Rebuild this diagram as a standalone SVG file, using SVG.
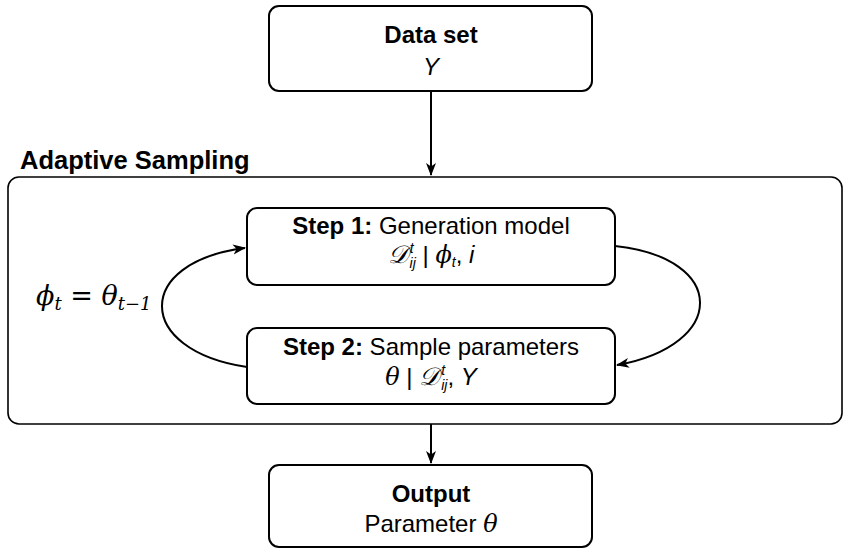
<svg xmlns="http://www.w3.org/2000/svg" width="850" height="550" viewBox="0 0 850 550">
  <defs>
    <style>
      .box { fill: #ffffff; stroke: #000000; stroke-width: 2; }
      .outer { fill: none; stroke: #000000; stroke-width: 1.6; }
      .edge { fill: none; stroke: #000000; stroke-width: 2; }
      .t { font-family: "Liberation Sans", Arial, sans-serif; font-size: 24px; fill: #000; text-anchor: middle; }
      .b { font-weight: bold; }
      .it { font-style: italic; }
      .gr { font-family: "DejaVu Serif", "Liberation Serif", serif; font-style: italic; }
      .cal { font-family: "DejaVu Serif", "Noto Sans", serif; font-style: italic; font-size: 25px; }
      .sm { font-size: 14px; }
    </style>
    <marker id="arr" markerWidth="14" markerHeight="12" refX="12" refY="5" orient="auto" markerUnits="userSpaceOnUse" viewBox="0 0 14 10">
      <path d="M0,0 L13,5 L0,10 L3.5,5 Z" fill="#000"/>
    </marker>
  </defs>

  <g id="connectors">
    <line class="edge" x1="431" y1="91" x2="431" y2="175" marker-end="url(#arr)"/>
    <line class="edge" x1="431" y1="424" x2="431" y2="463" marker-end="url(#arr)"/>
    <path class="edge" d="M615,246 C728,258 728,345 617,365" marker-end="url(#arr)"/>
    <path class="edge" d="M247,367 C134,350 134,262 245,248" marker-end="url(#arr)"/>
  </g>

  <g id="adaptive-sampling">
    <rect class="outer" x="8" y="177" width="834" height="247" rx="11"/>
    <text class="t b" x="20" y="169" style="text-anchor:start;font-size:25.5px">Adaptive Sampling</text>
  </g>

  <g id="data-set">
    <rect class="box" x="269" y="6" width="323" height="85" rx="10"/>
    <text class="t b" x="431" y="43">Data set</text>
    <text class="t it" x="431" y="75">Y</text>
  </g>

  <g id="step1">
    <rect class="box" x="247" y="208" width="368" height="77" rx="10"/>
    <text class="t" x="431" y="234"><tspan class="b">Step 1:</tspan> Generation model</text>
    <text class="t" x="431" y="263"><tspan class="cal">𝒟</tspan><tspan class="it sm" dx="2" dy="-10">t</tspan><tspan class="it sm" dx="-4" dy="15">ij</tspan><tspan dy="-5"> | </tspan><tspan class="gr">ϕ</tspan><tspan class="it sm" dy="4">t</tspan><tspan dy="-4">, </tspan><tspan class="it">i</tspan></text>
  </g>

  <g id="step2">
    <rect class="box" x="247" y="328" width="368" height="76" rx="10"/>
    <text class="t" x="431" y="355"><tspan class="b">Step 2:</tspan> Sample parameters</text>
    <text class="t" x="431" y="385"><tspan class="gr">θ</tspan> | <tspan class="cal">𝒟</tspan><tspan class="it sm" dx="2" dy="-10">t</tspan><tspan class="it sm" dx="-4" dy="15">ij</tspan><tspan dy="-5">, </tspan><tspan class="it">Y</tspan></text>
  </g>

  <g id="loop-label">
    <text class="gr" x="36" y="305" style="font-size:27px;font-style:italic">ϕ<tspan style="font-size:18px" dy="5">t</tspan><tspan dy="-5" style="font-style:normal"> = </tspan>θ<tspan style="font-size:18px" dy="5">t−1</tspan></text>
  </g>

  <g id="output">
    <rect class="box" x="269" y="465" width="323" height="82" rx="10"/>
    <text class="t b" x="431" y="502">Output</text>
    <text class="t" x="431" y="532">Parameter <tspan class="gr">θ</tspan></text>
  </g>
</svg>
